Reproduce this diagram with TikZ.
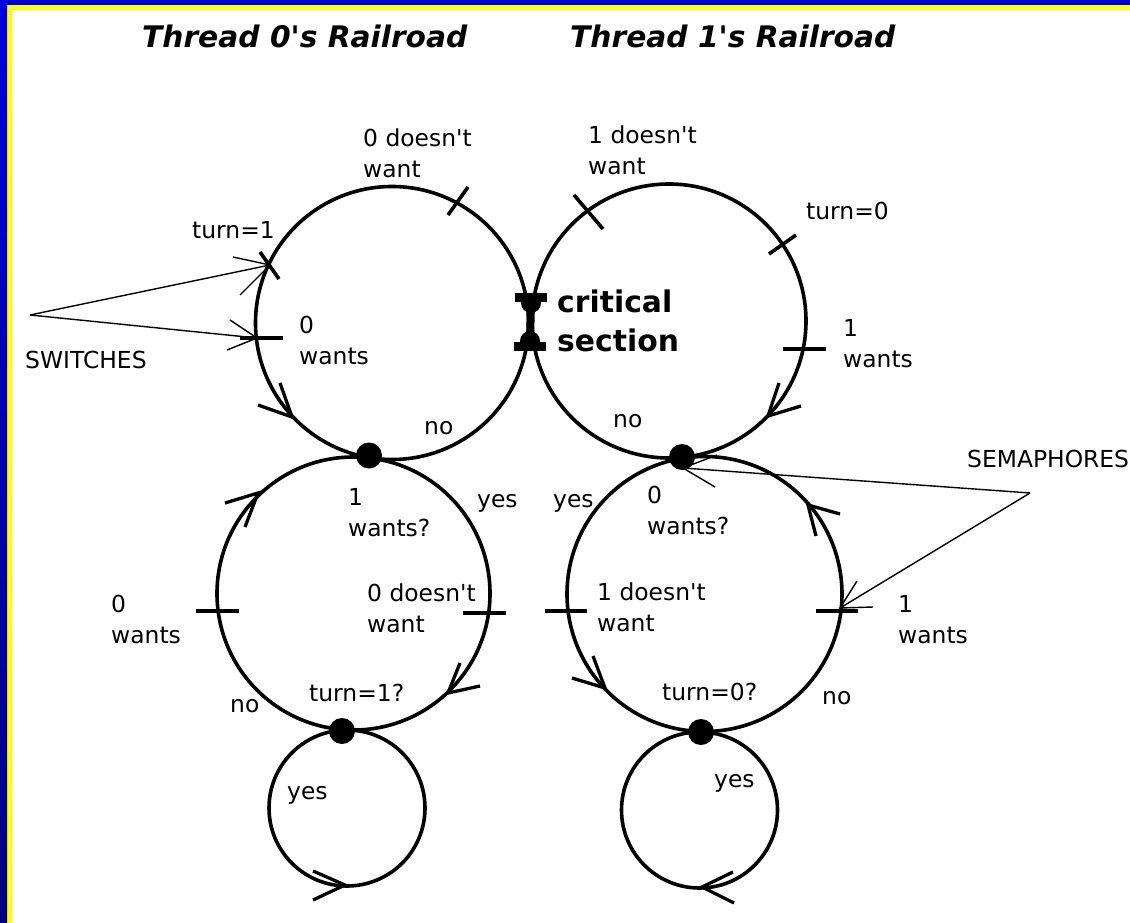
\documentclass[tikz,border=0pt]{standalone}
\usepackage{fontspec}
\setmainfont{DejaVu Sans}[BoldFont={DejaVu Sans Bold},ItalicFont={DejaVu Sans Oblique},BoldItalicFont={DejaVu Sans Bold Oblique}]
\definecolor{bandblue}{RGB}{0,0,221}
\definecolor{navyblue}{RGB}{0,0,128}
\definecolor{bandyellow}{RGB}{255,255,0}
\newcommand{\lblfont}{\fontsize{23.4}{31}\selectfont}
\newcommand{\csfont}{\fontsize{29.8}{38.5}\selectfont\bfseries}
\newcommand{\titlefont}{\fontsize{29.7}{36}\selectfont\bfseries\itshape}
\newcommand{\apos}{\textquotesingle}
\begin{document}
\begin{tikzpicture}[x=1pt,y=-1pt,
  track/.style={line width=3.6pt},
  tickmark/.style={line width=3.6pt},
  headline/.style={line width=3.3pt,line join=miter},
  pointer/.style={line width=1.4pt},
  junction/.style={fill=black},
  lbl/.style={font=\lblfont,inner sep=0pt,anchor=base west,align=left},
  cslbl/.style={font=\csfont,inner sep=0pt,anchor=base west,align=left},
  ttl/.style={font=\titlefont,inner sep=0pt,anchor=base west}]
\useasboundingbox (0,0) rectangle (1130,923);
\fill[white] (0,0) rectangle (1130,923);
% border
\fill[bandyellow] (7,5) rectangle (1130,10);
\fill[bandyellow] (7,5) rectangle (12,923);
\fill[bandblue] (0,0) rectangle (1130,5);
\shade[top color=bandblue,bottom color=navyblue] (0,0) rectangle (7,923);

% circle centres
\coordinate (C0) at (392,323);
\coordinate (C1) at (669,321);
\coordinate (M0) at (353.5,593.5);
\coordinate (M1) at (704.5,594);
\coordinate (B0) at (347,808);
\coordinate (B1) at (699.5,810);

% tracks
\draw[track] (C0) circle[radius=136.5];
\draw[track] (C1) circle[radius=137];
\draw[track] (M0) circle[radius=136.5];
\draw[track] (M1) circle[radius=137.5];
\draw[track] (B0) circle[radius=78];
\draw[track] (B1) circle[radius=78];

% tick marks
\draw[tickmark] (448,215) -- (468,187);
\draw[tickmark] (260,252) -- (279,279);
\draw[tickmark] (240,338) -- (283,338);
\draw[tickmark] (574,195) -- (603,229);
\draw[tickmark] (769,254) -- (796,235);
\draw[tickmark] (783,349) -- (826,349);
\draw[tickmark] (196,611) -- (239,611);
\draw[tickmark] (463,613) -- (506,613);
\draw[tickmark] (545,611) -- (587,611);
\draw[tickmark] (816,611) -- (858,611);

% direction heads on the tracks
\draw[headline] (280,383) -- (292,417) -- (258,405);
\draw[headline] (779,383) -- (768,416) -- (801,406);
\draw[headline] (225,503) -- (258,493) -- (245,527);
\draw[headline] (460,663) -- (448,693) -- (480,686);
\draw[headline] (840,514) -- (808,505) -- (816,536);
\draw[headline] (593,656) -- (605,688) -- (572,678);
\draw[headline] (313,871) -- (345,885) -- (313,900);
\draw[headline] (733,872) -- (702,887) -- (734,903);

% junctions
\coordinate (J0) at (369,455.5);
\coordinate (J1) at (682,457);
\coordinate (J2) at (342,731);
\coordinate (J3) at (701,732);
\fill[junction] (J0) circle[radius=13];
\fill[junction] (J1) circle[radius=13];
\fill[junction] (J2) circle[radius=13];
\fill[junction] (J3) circle[radius=13];

% critical section rail piece
\coordinate (CSa) at (531,303);
\coordinate (CSb) at (530,341);
\draw[line width=8pt] (CSa) -- (CSb);
\fill (CSa) circle[radius=10];
\fill (CSb) circle[radius=10];
\fill (515,293) rectangle (547,302);
\fill (514,342) rectangle (546,351);

% titles
\node[ttl] (T0) at (142,48) {Thread 0\apos s Railroad};
\node[ttl] (T1) at (570,48) {Thread 1\apos s Railroad};

% labels (base = baseline of last line)
\node[lbl] (La) at (363,177) {0 doesn\apos t\\want};
\node[lbl] (Lb) at (192,238) {turn=1};
\node[lbl] (Lc) at (299,364) {0\\wants};
\node[lbl] (SW) at (25,368) {SWITCHES};
\node[lbl] (Ld) at (424,434) {no};
\node[lbl] (Le) at (588,175) {1 doesn\apos t\\want};
\node[lbl] (Lf) at (806,219) {turn=0};
\node[lbl] (Lg) at (843,367) {1\\wants};
\node[cslbl] (CS) at (557,351) {critical\\section};
\node[lbl] (Lh) at (613,427) {no};
\node[lbl] (Li) at (348,536) {1\\wants?};
\node[lbl] (Lj) at (477,507) {yes};
\node[lbl] (Lk) at (367,632) {0 doesn\apos t\\want};
\node[lbl] (Ll) at (111,643) {0\\wants};
\node[lbl] (Lm) at (309,701) {turn=1?};
\node[lbl] (Ln) at (230,712) {no};
\node[lbl] (Lo) at (553,507) {yes};
\node[lbl] (Lp) at (647,534) {0\\wants?};
\node[lbl] (Lq) at (597,631) {1 doesn\apos t\\want};
\node[lbl] (Lr) at (898,643) {1\\wants};
\node[lbl] (Ls) at (662,700) {turn=0?};
\node[lbl] (Lu) at (822,704) {no};
\node[lbl] (SEM) at (967,467) {SEMAPHORES};
\node[lbl] (Lv) at (287,799) {yes};
\node[lbl] (Lw) at (714,787) {yes};

% pointers
\coordinate (swapex) at (30,315);
\coordinate (swtipA) at (270,265);
\coordinate (swtipB) at (257,338);
\draw[pointer] (swapex) -- (swtipA);
\draw[pointer] (233,257) -- (swtipA) -- (240,295);
\draw[pointer] (swapex) -- (swtipB);
\draw[pointer] (230,320) -- (swtipB) -- (227,350);

\coordinate (semapex) at (1030,493);
\coordinate (semtipA) at (683,468);
\coordinate (semtipB) at (840,608);
\draw[pointer] (semapex) -- (semtipA);
\draw[pointer] (715,487) -- (semtipA) -- (717,455);
\draw[pointer] (semapex) -- (semtipB);
\draw[pointer] (857,581) -- (semtipB) -- (873,607);
\end{tikzpicture}
\end{document}
